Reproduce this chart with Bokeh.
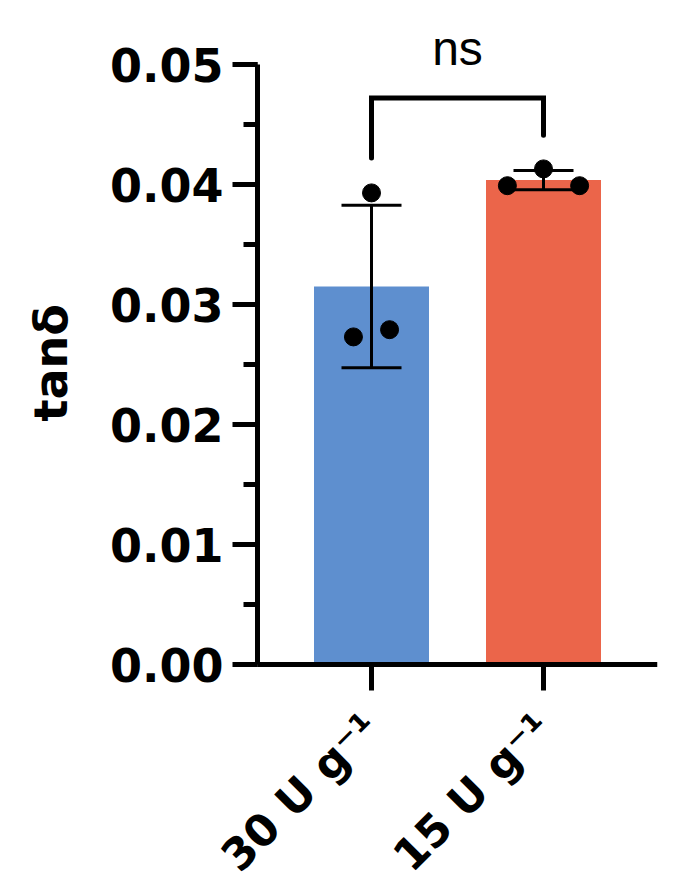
import math
import numpy as np
from bokeh.plotting import figure
from bokeh.models import (ColumnDataSource, Range1d, SingleIntervalTicker, FixedTicker,
                          NumeralTickFormatter, Label, Title)
from bokeh.embed import file_html
from bokeh.resources import INLINE

# data
categories = ["30 U g⁻¹", "15 U g⁻¹"]
bar_colors = ["#5E8FCF", "#EB654A"]
points_30 = [0.0393, 0.0273, 0.0279]
points_15 = [0.0399, 0.0413, 0.0399]
# horizontal scatter of the replicate dots (category units)
offsets_30 = [0.0, -0.105, 0.105]
offsets_15 = [-0.21, 0.0, 0.21]
# significance bracket: left leg end, bar height, right leg end
bracket_y = [0.0422, 0.0472, 0.0472, 0.0441]
sig_text = "ns"
y_label = "tanδ"

groups = [points_30, points_15]
pos = list(range(len(categories)))
means = [float(np.mean(g)) for g in groups]
sds = [float(np.std(g, ddof=1)) for g in groups]

bars = ColumnDataSource(dict(
    x=pos, mean=means, color=bar_colors,
    upper=[m + s for m, s in zip(means, sds)],
    lower=[m - s for m, s in zip(means, sds)],
))

px, py = [], []
for i, (vals, offs) in enumerate([(points_30, offsets_30), (points_15, offsets_15)]):
    for v, o in zip(vals, offs):
        px.append(i + o)
        py.append(v)
dots = ColumnDataSource(dict(x=px, y=py))

# layout (pixels): the frame covers nearly the whole canvas and both axes are
# pinned inside it, so the rotated category labels are never clipped
W, H = 680, 880
LEFT, RIGHT, TOP = 86, 23, 24
AXIS_X, FIRST_X, STEP_X = 257, 371, 172     # y-axis line, first category, spacing
ZERO_Y, Y_SPAN = 664, 600                   # y = 0 and height of 0..0.05
per_px_y = 0.05 / Y_SPAN
y_range = Range1d(-(H - ZERO_Y) * per_px_y, 0.05 + (ZERO_Y - Y_SPAN - TOP) * per_px_y)
x_range = Range1d((LEFT - FIRST_X) / STEP_X, (W - RIGHT - FIRST_X) / STEP_X)
axis_x = (AXIS_X - FIRST_X) / STEP_X

p = figure(
    x_range=x_range, y_range=y_range,
    width=W, height=H,
    min_border_left=LEFT, min_border_right=RIGHT, min_border_top=TOP, min_border_bottom=0,
    output_backend="svg", toolbar_location=None, tools="",
)
p.outline_line_color = None
p.grid.grid_line_color = None
p.background_fill_color = "white"

p.vbar(x="x", top="mean", width=115 / STEP_X, source=bars, fill_color="color", line_color=None)

# mean +/- SD error bars
p.segment(x0="x", y0="lower", x1="x", y1="upper", source=bars, line_color="black", line_width=3)
p.scatter(x="x", y="upper", source=bars, marker="dash", size=60, line_color="black", line_width=3)
p.scatter(x="x", y="lower", source=bars, marker="dash", size=60, line_color="black", line_width=3)

p.scatter(x="x", y="y", source=dots, size=18, fill_color="black", line_color="black")

# bracket
p.line(x=[pos[0], pos[0], pos[1], pos[1]], y=bracket_y,
       line_color="black", line_width=5, line_join="miter", line_cap="round")

p.add_layout(Label(x=(pos[0] + pos[1]) / 2, y=0.0513, text=sig_text, text_align="center",
                   text_baseline="alphabetic", text_font="Liberation Sans",
                   text_font_size="48px", text_color="black"))

for ax in (p.xaxis[0], p.yaxis[0]):
    ax.axis_line_width = 5
    ax.axis_line_color = "black"
    ax.major_tick_line_width = 5
    ax.major_tick_line_color = "black"
    ax.minor_tick_line_width = 5
    ax.minor_tick_line_color = "black"
    ax.major_tick_in = 0
    ax.minor_tick_in = 0
    ax.major_label_text_font = "DejaVu Sans"
    ax.major_label_text_font_style = "bold"
    ax.major_label_text_color = "black"

xa = p.xaxis[0]
xa.fixed_location = 0
xa.bounds = (axis_x, x_range.end)
xa.ticker = FixedTicker(ticks=pos)
xa.major_label_overrides = {i: c for i, c in zip(pos, categories)}
xa.major_label_orientation = math.pi / 4
xa.major_label_text_font_size = "44px"
xa.major_tick_out = 26
xa.major_label_standoff = 30

ya = p.yaxis[0]
ya.fixed_location = axis_x
ya.ticker = SingleIntervalTicker(interval=0.01, num_minor_ticks=2)
ya.formatter = NumeralTickFormatter(format="0.00")
ya.bounds = (0, 0.05)
ya.major_tick_out = 25
ya.minor_tick_out = 14
ya.major_label_standoff = 9
ya.major_label_text_font_size = "46px"

# y label as a left title so it can be shifted along the axis
p.add_layout(Title(text=y_label, align="left", offset=H - 421, standoff=18,
                   text_font="DejaVu Sans", text_font_style="bold",
                   text_font_size="46px", text_color="black"), "left")

open("out.html", "w").write(file_html(p, INLINE))
